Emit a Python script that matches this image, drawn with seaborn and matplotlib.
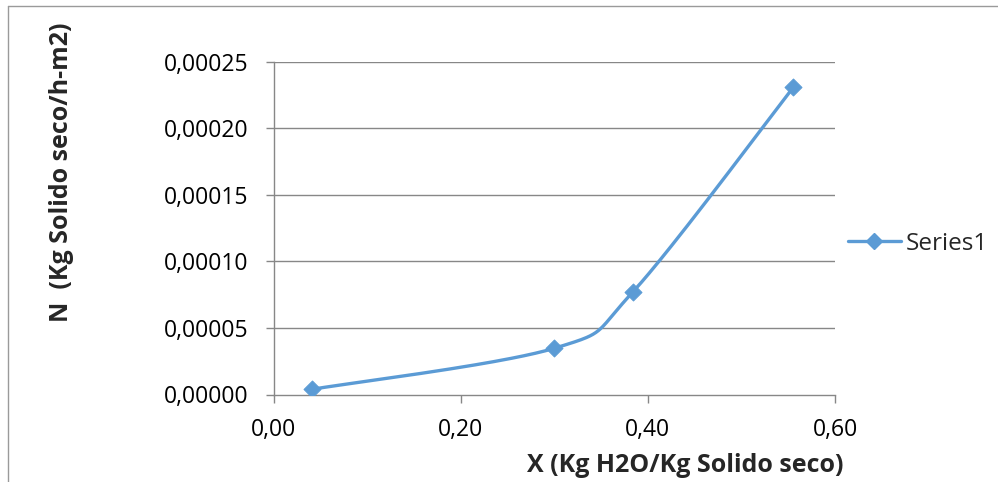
import numpy as np
import pandas as pd
import matplotlib
matplotlib.use("Agg")
import matplotlib.pyplot as plt
from matplotlib.lines import Line2D
from matplotlib.ticker import FuncFormatter
import seaborn as sns

x_vals = [0.041, 0.300, 0.384, 0.5555]
n_vals = [0.0000039, 0.0000347, 0.0000770, 0.0002306]
series_name = "Series1"
x_ticks = [0.0, 0.2, 0.4, 0.6]
y_ticks = [0.0, 0.00005, 0.00010, 0.00015, 0.00020, 0.00025]
x_label = "X (Kg H2O/Kg Solido seco)"
y_label = "N  (Kg Solido seco/h-m2)"

sns.set_theme(style="white")
plt.rcParams['font.family'] = ['Open Sans', 'DejaVu Sans']

W, H = 998, 482
fig = plt.figure(figsize=(W / 100, H / 100), dpi=100)
ax = fig.add_axes([273.5 / W, 1 - 394.5 / H, (835 - 273.5) / W, (394.5 - 61.5) / H])
ax.set_xlim(0, 0.6)
ax.set_ylim(0, 0.00025)

color = "#5B9BD5"
grid_c = "#878787"

# Excel-style smoothed curve computed in display space
pts = ax.transData.transform(np.column_stack([x_vals, n_vals]))
curve = []
n = len(pts)
for i in range(n - 1):
    p0 = pts[i - 1] if i > 0 else pts[i]
    p1 = pts[i]
    p2 = pts[i + 1]
    p3 = pts[i + 2] if i + 2 < n else pts[i + 1]
    c1 = p1 + (p2 - p0) / 6
    c2 = p2 - (p3 - p1) / 6
    t = np.linspace(0, 1, 60)[:, None]
    seg = (1 - t) ** 3 * p1 + 3 * (1 - t) ** 2 * t * c1 + 3 * (1 - t) * t ** 2 * c2 + t ** 3 * p2
    curve.append(seg if i == 0 else seg[1:])
curve = ax.transData.inverted().transform(np.vstack(curve))
df_curve = pd.DataFrame({"x": curve[:, 0], "y": curve[:, 1]})
df_pts = pd.DataFrame({"x": x_vals, "y": n_vals})

for yt in y_ticks[1:]:
    ax.axhline(yt, color=grid_c, lw=1.0, zorder=0)

sns.lineplot(data=df_curve, x="x", y="y", sort=False, color=color, lw=2.4, ax=ax, zorder=3)
sns.scatterplot(data=df_pts, x="x", y="y", marker="D", s=75, color=color, edgecolor=color, ax=ax, zorder=4)
ax.set_xlim(0, 0.6)
ax.set_ylim(0, 0.00025)

ax.set_xticks(x_ticks)
ax.set_yticks(y_ticks)
ax.xaxis.set_major_formatter(FuncFormatter(lambda v, p: f"{v:.2f}".replace(".", ",")))
ax.yaxis.set_major_formatter(FuncFormatter(lambda v, p: f"{v:.5f}".replace(".", ",")))
ax.tick_params(axis="both", which="major", length=6, width=1, color=grid_c, labelsize=16.5, labelcolor="black",
               direction="out", bottom=True, left=True)
ax.tick_params(axis="x", pad=11)
ax.tick_params(axis="y", pad=12)
for s in ["top", "right"]:
    ax.spines[s].set_visible(False)
for s in ["left", "bottom"]:
    ax.spines[s].set_color(grid_c)
    ax.spines[s].set_linewidth(1.0)
ax.set_xlabel("")
ax.set_ylabel("")
ax.grid(False)

fig.text(685 / W, 1 - 466 / H, x_label, ha="center", va="center", fontsize=18, fontweight="bold")
fig.text(62 / W, 1 - 172 / H, y_label, ha="center", va="center", rotation=90, fontsize=18, fontweight="bold")

handle = Line2D([0], [0], color=color, lw=2.4, marker="D", markersize=8.5)
leg = fig.legend([handle], [series_name], loc="center left", bbox_to_anchor=(838 / W, 1 - 244 / H),
                 frameon=False, fontsize=17.5, handlelength=2.2, handletextpad=0.2, borderaxespad=0)

# outer chart border (left and top visible)
fig.add_artist(Line2D([8 / W, 8 / W], [0, 1 - 6 / H], transform=fig.transFigure, color="#9a9a9a", lw=1))
fig.add_artist(Line2D([8 / W, 1], [1 - 6 / H, 1 - 6 / H], transform=fig.transFigure, color="#9a9a9a", lw=1))

fig.savefig("out.png", dpi=100)
